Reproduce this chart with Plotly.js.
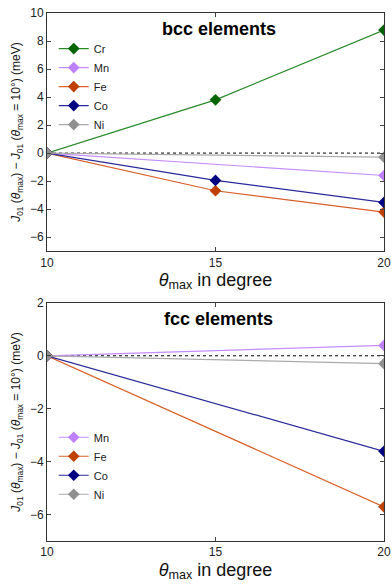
<!DOCTYPE html>
<html>
<head>
<meta charset="utf-8">
<script src="https://cdn.plot.ly/plotly-3.0.1.min.js"></script>
<style>
  html, body { margin: 0; padding: 0; background: #fff; }
  #chart { width: 392px; height: 584px; }
</style>
</head>
<body>
<div id="chart"></div>
<script>
// theta_max values (degree)
const thetaMax = [10, 15, 20];

// bcc elements, J01(theta_max) - J01(10 deg) in meV (null = no point)
const bccCr = [0, 3.8, 8.78];
const bccMn = [0, null, -1.6];
const bccFe = [0, -2.69, -4.21];
const bccCo = [0, -1.95, -3.52];
const bccNi = [0, null, -0.29];

// fcc elements
const fccMn = [0, null, 0.39];
const fccFe = [0, null, -5.71];
const fccCo = [0, null, -3.61];
const fccNi = [0, null, -0.3];

const colors = {
  Cr: { line: "#2a8a2a", marker: "#006400" },
  Mn: { line: "#c58cff", marker: "#bf80ff" },
  Fe: { line: "#d9602a", marker: "#c04000" },
  Co: { line: "#2a2a9a", marker: "#000080" },
  Ni: { line: "#aaaaaa", marker: "#909090" },
};

function makeTrace(name, y, xa, ya, legend) {
  return {
    x: thetaMax,
    y: y,
    name: name,
    xaxis: xa,
    yaxis: ya,
    legend: legend,
    type: "scatter",
    mode: "lines+markers",
    connectgaps: true,
    line: { color: colors[name].line, width: 1.2 },
    marker: { symbol: "diamond", size: 9, color: colors[name].marker },
  };
}

const traces = [
  makeTrace("Cr", bccCr, "x", "y", "legend"),
  makeTrace("Mn", bccMn, "x", "y", "legend"),
  makeTrace("Fe", bccFe, "x", "y", "legend"),
  makeTrace("Co", bccCo, "x", "y", "legend"),
  makeTrace("Ni", bccNi, "x", "y", "legend"),
  makeTrace("Mn", fccMn, "x2", "y2", "legend2"),
  makeTrace("Fe", fccFe, "x2", "y2", "legend2"),
  makeTrace("Co", fccCo, "x2", "y2", "legend2"),
  makeTrace("Ni", fccNi, "x2", "y2", "legend2"),
];

const fontFam = "Liberation Sans, Arial, sans-serif";
const yTitle = "<i>J</i><sub>01</sub> (<i>θ</i><sub>max</sub>) − <i>J</i><sub>01</sub> (<i>θ</i><sub>max</sub> = 10°) (meV)";
const xTitle = "<i>θ</i><sub>max</sub> in degree";

function xAxis(anchor) {
  return {
    anchor: anchor,
    range: [10, 20],
    tickvals: thetaMax,
    ticks: "inside",
    ticklen: 4,
    mirror: "ticks",
    showline: true,
    linecolor: "#333",
    linewidth: 1,
    showgrid: false,
    zeroline: false,
    tickfont: { size: 12, color: "#222" },
    title: { text: xTitle, font: { size: 18, color: "#111" }, standoff: 4 },
  };
}

function yAxis(anchor, domain, range, dtick) {
  return {
    anchor: anchor,
    domain: domain,
    range: range,
    dtick: dtick,
    ticks: "inside",
    ticklen: 4,
    mirror: "ticks",
    showline: true,
    linecolor: "#333",
    linewidth: 1,
    showgrid: false,
    zeroline: false,
    tickfont: { size: 12, color: "#222" },
    title: { text: yTitle, font: { size: 12, color: "#111" }, standoff: 6 },
  };
}

const layout = {
  width: 392,
  height: 584,
  margin: { l: 47, r: 8, t: 13, b: 43 },
  paper_bgcolor: "#fff",
  plot_bgcolor: "#fff",
  font: { family: fontFam, color: "#222" },
  xaxis: xAxis("y"),
  yaxis: yAxis("x", [0.549, 1], [-7, 10], 2),
  xaxis2: xAxis("y2"),
  yaxis2: yAxis("x2", [0, 0.451], [-7, 2], 2),
  legend: {
    x: 0.02, y: 0.96, xanchor: "left", yanchor: "top",
    bgcolor: "rgba(0,0,0,0)",
    font: { size: 11, color: "#222" },
    itemwidth: 30,
  },
  legend2: {
    x: 0.02, y: 0.224, xanchor: "left", yanchor: "top",
    bgcolor: "rgba(0,0,0,0)",
    font: { size: 11, color: "#222" },
    itemwidth: 30,
  },
  shapes: [
    { type: "line", xref: "x domain", x0: 0, x1: 1, yref: "y", y0: 0, y1: 0,
      line: { color: "#000", width: 1, dash: "dot" }, layer: "below" },
    { type: "line", xref: "x2 domain", x0: 0, x1: 1, yref: "y2", y0: 0, y1: 0,
      line: { color: "#000", width: 1, dash: "dot" }, layer: "below" },
  ],
  annotations: [
    { text: "<b>bcc elements</b>", xref: "x domain", yref: "y domain", x: 0.51, y: 0.933,
      xanchor: "center", yanchor: "middle",
      showarrow: false, font: { size: 18, color: "#000" } },
    { text: "<b>fcc elements</b>", xref: "x2 domain", yref: "y2 domain", x: 0.51, y: 0.933,
      xanchor: "center", yanchor: "middle",
      showarrow: false, font: { size: 18, color: "#000" } },
  ],
};

Plotly.newPlot("chart", traces, layout, { displayModeBar: false });
</script>
</body>
</html>
